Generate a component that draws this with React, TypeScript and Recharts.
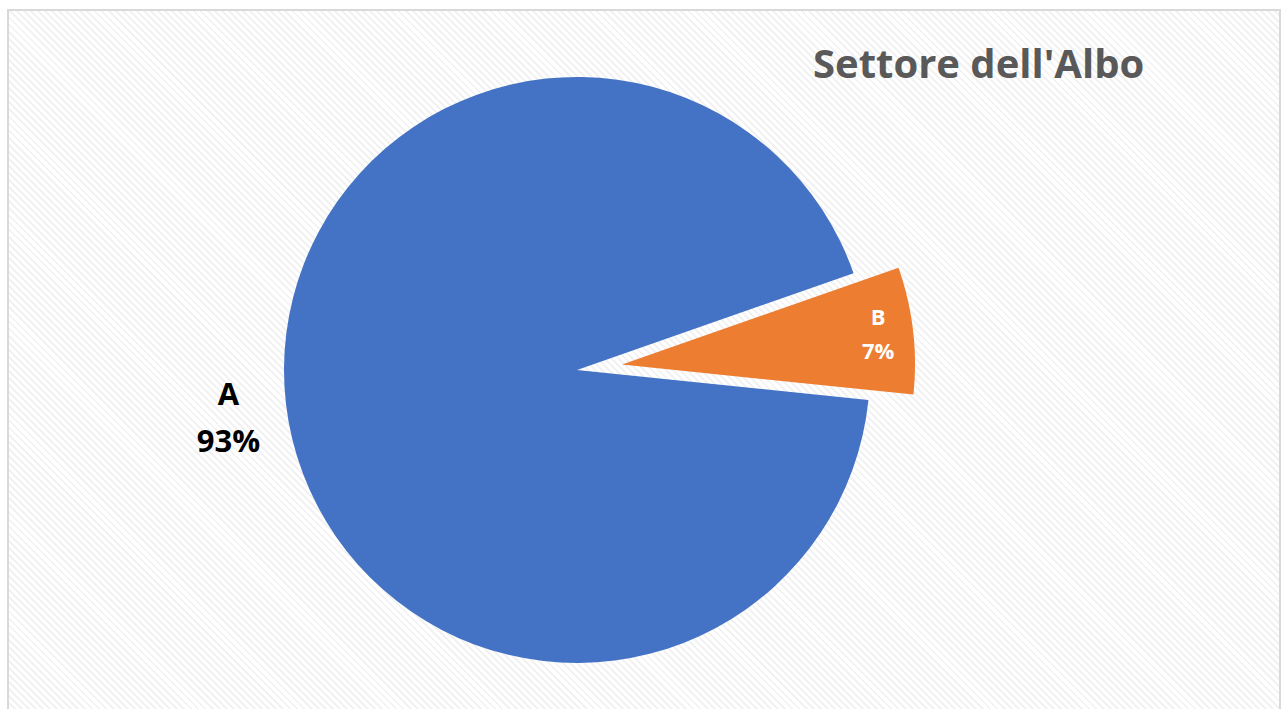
import { Cell, Pie, PieChart } from 'recharts'

const categories = ['A', 'B']
const shares = [93, 7]
const sliceColors = ['#4472C4', '#ED7D31']
const chartTitle = "Settore dell'Albo"

const data = categories.map((name, i) => ({ name, value: shares[i] }))

const RAD = Math.PI / 180
const FONT = '"Open Sans", "Noto Sans", sans-serif'

// outside label for the big slice (black, bold)
function outerLabel(props: any) {
  const { cx, cy, midAngle, outerRadius, index, name, percent } = props
  if (index !== 0) return null
  const r = outerRadius + 58
  const x = cx + r * Math.cos(-midAngle * RAD)
  const y = cy + r * Math.sin(-midAngle * RAD)
  return (
    <text textAnchor="middle" fill="#000" fontSize={31} fontWeight={700} fontFamily={FONT}>
      <tspan x={x} y={y - 6}>{name}</tspan>
      <tspan x={x} y={y + 41}>{`${Math.round(percent * 100)}%`}</tspan>
    </text>
  )
}

// inside label for the exploded slice (white, bold)
function innerLabel(props: any) {
  const { cx, cy, midAngle, outerRadius, index, name, percent } = props
  if (index !== 1) return null
  const r = outerRadius * 0.88
  const x = cx + r * Math.cos(-midAngle * RAD)
  const y = cy + r * Math.sin(-midAngle * RAD)
  return (
    <text textAnchor="middle" fill="#fff" fontSize={22} fontWeight={700} fontFamily={FONT}>
      <tspan x={x} y={y - 9}>{name}</tspan>
      <tspan x={x} y={y + 25}>{`${Math.round(percent * 100)}%`}</tspan>
    </text>
  )
}

const W = 1270
const H = 698

export default function App() {
  return (
    <>
      <style>{`html,body{margin:0;overflow:hidden;background:#fff}`}</style>
      <div
        style={{
          position: 'absolute',
          left: 7,
          top: 9,
          width: W,
          height: H,
          border: '2px solid #d9d9d9',
          background:
            'repeating-linear-gradient(45deg, #ffffff 0px, #ffffff 3px, #f2f2f2 3px, #f2f2f2 5px)',
        }}
      >
        <PieChart width={W} height={H} margin={{ top: 0, right: 0, bottom: 0, left: 0 }}>
          <Pie
            data={data}
            dataKey="value"
            nameKey="name"
            cx={568}
            cy={359}
            outerRadius={293}
            startAngle={-5.9}
            endAngle={-365.9}
            stroke="none"
            label={outerLabel}
            labelLine={false}
            isAnimationActive={false}
          >
            {data.map((d, i) => (
              <Cell key={d.name} fill={i === 0 ? sliceColors[0] : 'transparent'} />
            ))}
          </Pie>
          <Pie
            data={data}
            dataKey="value"
            nameKey="name"
            cx={613}
            cy={353.5}
            outerRadius={293}
            startAngle={-5.9}
            endAngle={-365.9}
            stroke="none"
            label={innerLabel}
            labelLine={false}
            isAnimationActive={false}
          >
            {data.map((d, i) => (
              <Cell key={d.name} fill={i === 1 ? sliceColors[1] : 'transparent'} />
            ))}
          </Pie>
        </PieChart>
        <svg
          width={W}
          height={120}
          style={{ position: 'absolute', left: 0, top: 0, pointerEvents: 'none' }}
        >
          <text x={804} y={67} fill="#595959" fontSize={40} fontWeight={700} fontFamily={FONT}>
            {chartTitle}
          </text>
        </svg>
      </div>
    </>
  )
}
